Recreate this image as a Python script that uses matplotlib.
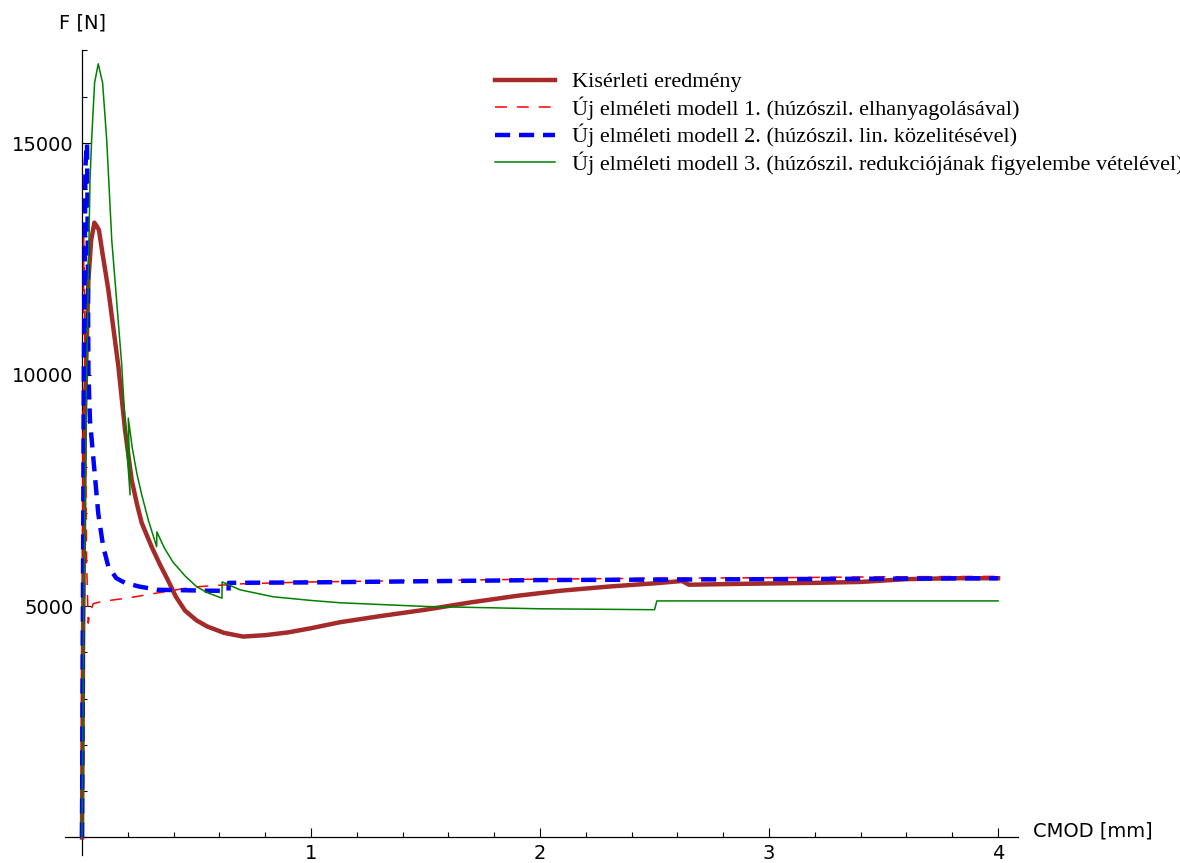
import matplotlib
matplotlib.use("Agg")
import matplotlib.pyplot as plt
from matplotlib.ticker import FixedLocator, MultipleLocator

# measured curves, CMOD [mm] vs F [N]
exp_x = [0.0, 0.005, 0.013, 0.028, 0.04, 0.054, 0.065, 0.074, 0.09, 0.115, 0.159,
         0.188, 0.217, 0.24, 0.261, 0.304, 0.34, 0.377, 0.41, 0.45, 0.5, 0.546, 0.62,
         0.703, 0.8, 0.9, 1.0, 1.127, 1.3, 1.5, 1.7, 1.9, 2.09, 2.3, 2.5, 2.62, 2.65,
         2.9, 3.2, 3.4, 3.6, 3.8, 4.0]
exp_f = [0, 4500, 9170, 12040, 12900, 13280, 13200, 13120, 12600, 11830, 10170,
         8800, 7720, 7200, 6790, 6280, 5900, 5540, 5200, 4900, 4690, 4560, 4420,
         4340, 4370, 4430, 4520, 4650, 4780, 4920, 5080, 5220, 5330, 5420, 5490, 5540,
         5460, 5480, 5500, 5520, 5580, 5600, 5600]

m1_x = [0.0, 0.003, 0.008, 0.014, 0.02, 0.027, 0.035, 0.049, 0.08, 0.135, 0.197,
        0.327, 0.485, 0.7, 1.0, 1.5, 2.0, 2.5, 3.0, 3.5, 4.0]
m1_f = [0, 6000, 13000, 9500, 6000, 4630, 4850, 5050, 5090, 5130, 5170,
        5280, 5410, 5480, 5520, 5550, 5580, 5600, 5610, 5630, 5640]

m2_x = [0.0, 0.004, 0.008, 0.015, 0.022, 0.025, 0.028, 0.035, 0.049, 0.071, 0.092,
        0.115, 0.15, 0.188, 0.25, 0.33, 0.45, 0.56, 0.64, 0.641, 1.0, 2.0, 3.0, 4.0]
m2_f = [0, 5000, 10000, 14500, 15000, 13000, 10030, 9000, 8220, 7000, 6300,
        5850, 5600, 5500, 5420, 5350, 5340, 5330, 5330, 5500, 5510, 5560, 5580, 5600]

m3_x = [0.0, 0.008, 0.02, 0.035, 0.042, 0.055, 0.071, 0.09, 0.108, 0.13, 0.144,
        0.173, 0.19, 0.21, 0.202, 0.22, 0.24, 0.261, 0.29, 0.326, 0.327, 0.36, 0.397,
        0.45, 0.5, 0.546, 0.611, 0.612, 0.69, 0.834, 1.0, 1.127, 1.5, 2.0, 2.5, 2.51,
        4.0]
m3_f = [0, 5000, 9880, 14200, 15060, 16300, 16710, 16300, 15060, 12900, 12040,
        10240, 8800, 7400, 9060, 8400, 7850, 7400, 6850, 6280, 6600, 6250, 5950,
        5650, 5420, 5290, 5170, 5520, 5350, 5200, 5120, 5070, 4990, 4940, 4920, 5110,
        5110]

labels = ["Kisérleti eredmény",
          "Új elméleti modell 1. (húzószil. elhanyagolásával)",
          "Új elméleti modell 2. (húzószil. lin. közelitésével)",
          "Új elméleti modell 3. (húzószil. redukciójának figyelembe vételével)"]

W, H = 1180, 863
fig = plt.figure(figsize=(W / 100, H / 100), dpi=100)
ax = fig.add_axes([65 / W, (H - 855) / H, (1018 - 65) / W, (855 - 50) / H])

ax.plot(exp_x, exp_f, color="#a52a2a", lw=3.2, label=labels[0], zorder=3)
ax.plot(m1_x, m1_f, color="red", lw=1.1, dashes=(7.8, 6.5), label=labels[1], zorder=3)
ax.plot(m2_x, m2_f, color="blue", lw=3.2, dashes=(3.4, 2.0), label=labels[2], zorder=3)
ax.plot(m3_x, m3_f, color="green", lw=1.1, label=labels[3], zorder=3)

ax.set_xlim(-0.0742, 4.087)
ax.set_ylim(-378, 17009)

for s in ["top", "right"]:
    ax.spines[s].set_visible(False)
for s in ["left", "bottom"]:
    ax.spines[s].set_position(("data", 0))
    ax.spines[s].set_linewidth(0.9)
    ax.spines[s].set_zorder(1)

ax.xaxis.set_major_locator(FixedLocator([1, 2, 3, 4]))
ax.xaxis.set_minor_locator(MultipleLocator(0.2))
ax.yaxis.set_major_locator(FixedLocator([5000, 10000, 15000]))
ax.yaxis.set_minor_locator(MultipleLocator(1000))
ax.tick_params(which="both", direction="in", width=0.8, labelsize=14)
ax.tick_params(which="major", length=6.5)
ax.tick_params(which="minor", length=3.5)
ax.tick_params(axis="x", pad=5)
ax.tick_params(axis="y", pad=6)

fig.text(59 / W, 1 - 23 / H, "F [N]", fontsize=14, va="center", ha="left")
fig.text(1033 / W, 1 - 831 / H, "CMOD [mm]", fontsize=14, va="center", ha="left")

ax.legend(loc="upper left", bbox_to_anchor=(486 / W, 1 - 63 / H),
          bbox_transform=fig.transFigure, frameon=False,
          prop={"family": "Liberation Serif", "size": 16},
          handlelength=2.7, handletextpad=0.77, labelspacing=0.18,
          borderaxespad=0)

fig.savefig("out.png", dpi=100)
